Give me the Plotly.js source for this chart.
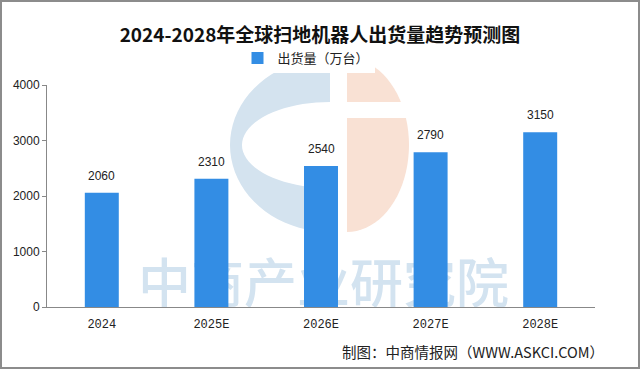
<!DOCTYPE html>
<html><head><meta charset="utf-8">
<script src="https://cdn.plot.ly/plotly-3.0.1.min.js"></script>
<style>
html,body{margin:0;padding:0;background:#fff;}
#wrap{position:relative;width:640px;height:369px;}
#chart{position:absolute;left:0;top:0;width:640px;height:369px;}
#frame{position:absolute;left:0;top:0;width:640px;height:369px;box-sizing:border-box;border:2px solid #8c8c8c;pointer-events:none;}
</style>
</head><body>
<div id="wrap"><div id="chart"></div><div id="frame"></div></div>
<script>
const categories = ['2024', '2025E', '2026E', '2027E', '2028E'];
const shipments = [2060, 2310, 2540, 2790, 3150];
const yTicks = [0, 1000, 2000, 3000, 4000];
const seriesName = '出货量（万台）';
const titleText = '2024-2028年全球扫地机器人出货量趋势预测图';
const sourceText = '制图：中商情报网（WWW.ASKCI.COM）';
const watermarkText = '中商产业研究院';

const W = 640, H = 369;
const L = 47, R = 595, T = 85, B = 307;
function px(x, y) { return ((x - L) / (R - L)).toFixed(4) + ',' + ((B - y) / (B - T)).toFixed(4); }

// watermark logo paths (decorative)
let blue = '';
const N = 40;
for (let i = 0; i <= N; i++) {
  const t = Math.PI * i / N;
  const x = 330 - 100 * Math.sin(t), y = 145 - 87 * Math.cos(t);
  blue += (i === 0 ? 'M' : 'L') + px(x, y);
}
for (let i = 0; i <= N; i++) {
  const t = Math.PI * i / N;
  const x = 330 - 88 * Math.sin(t), y = 145 + 43 * Math.cos(t);
  blue += 'L' + px(x, y);
}
blue += 'Z';
let orange = 'M' + px(347, 58);
for (let i = 0; i <= N; i++) {
  const t = Math.PI * i / N;
  const x = 347 + 62 * Math.sin(t), y = 145 - 87 * Math.cos(t);
  orange += 'L' + px(x, y);
}
orange += 'Z';

const shapes = [
  {type: 'path', xref: 'paper', yref: 'paper', path: blue, fillcolor: '#d4e3ef', line: {width: 0}, layer: 'below'},
  {type: 'path', xref: 'paper', yref: 'paper', path: orange, fillcolor: '#f9e1d4', line: {width: 0}, layer: 'below'},
  {type: 'rect', xref: 'paper', yref: 'paper', x0: (346 - L) / (R - L), x1: (415 - L) / (R - L),
   y0: (B - 118) / (B - T), y1: (B - 102) / (B - T), fillcolor: '#ffffff', line: {width: 0}, layer: 'below'},
  {type: 'rect', xref: 'paper', yref: 'paper', x0: (135 - L) / (R - L), x1: (512 - L) / (R - L),
   y0: (B - 314) / (B - T), y1: (B - 262) / (B - T), fillcolor: 'rgba(0,0,0,0)', line: {width: 0}, layer: 'below',
   label: {text: watermarkText, font: {family: 'Noto Sans CJK SC', size: 53, color: '#d3e3f0', weight: 500}, textposition: 'middle center'}}
];

const annotations = categories.map((c, i) => ({
  x: i, y: shipments[i], xref: 'x', yref: 'y', text: String(shipments[i]), showarrow: false,
  yanchor: 'bottom', yshift: 8, font: {family: 'Liberation Sans, Arial, sans-serif', size: 12, color: '#222'}
}));
annotations.push({
  xref: 'paper', yref: 'paper', x: (606 - L) / (R - L), y: (B - 351) / (B - T), xanchor: 'right', yanchor: 'middle',
  text: sourceText, showarrow: false, font: {family: 'Noto Sans CJK SC', size: 14.5, color: '#222'}
});

const data = [{
  type: 'bar', x: categories, y: shipments, name: seriesName,
  marker: {color: '#338de4'}, showlegend: true
}];

const layout = {
  width: W, height: H,
  margin: {l: L, r: W - R, t: T, b: H - B, pad: 0},
  paper_bgcolor: '#ffffff', plot_bgcolor: 'rgba(0,0,0,0)',
  title: {text: '<b>' + titleText + '</b>', x: 0.5, xanchor: 'center', y: 1 - 35 / H, yanchor: 'middle',
          font: {family: 'Noto Sans CJK SC', size: 19, color: '#111'}},
  bargap: 0.69,
  showlegend: true,
  legend: {orientation: 'h', x: 0.5 - 15 / (R - L), xanchor: 'center', y: (B - 58) / (B - T), yanchor: 'middle',
           font: {family: 'Noto Sans CJK SC', size: 13, color: '#222'}, itemwidth: 30},
  xaxis: {type: 'category', range: [-0.5, categories.length - 0.5], showgrid: false, showline: true, linecolor: '#888', linewidth: 1,
          ticks: 'outside', ticklen: 6, tickcolor: 'rgba(0,0,0,0)',
          tickfont: {family: 'Liberation Mono, DejaVu Sans Mono, monospace', size: 12, color: '#222'}, zeroline: false},
  yaxis: {range: [0, 4000], tickvals: yTicks, ticktext: yTicks.map(String), showgrid: false, showline: true,
          linecolor: '#888', linewidth: 1, ticks: 'outside', ticklen: 4, tickcolor: '#888', zeroline: false,
          tickfont: {family: 'Liberation Sans, Arial, sans-serif', size: 12, color: '#222'}},
  shapes: shapes,
  annotations: annotations
};

Plotly.newPlot('chart', data, layout, {displayModeBar: false, staticPlot: true});
</script>
</body></html>
